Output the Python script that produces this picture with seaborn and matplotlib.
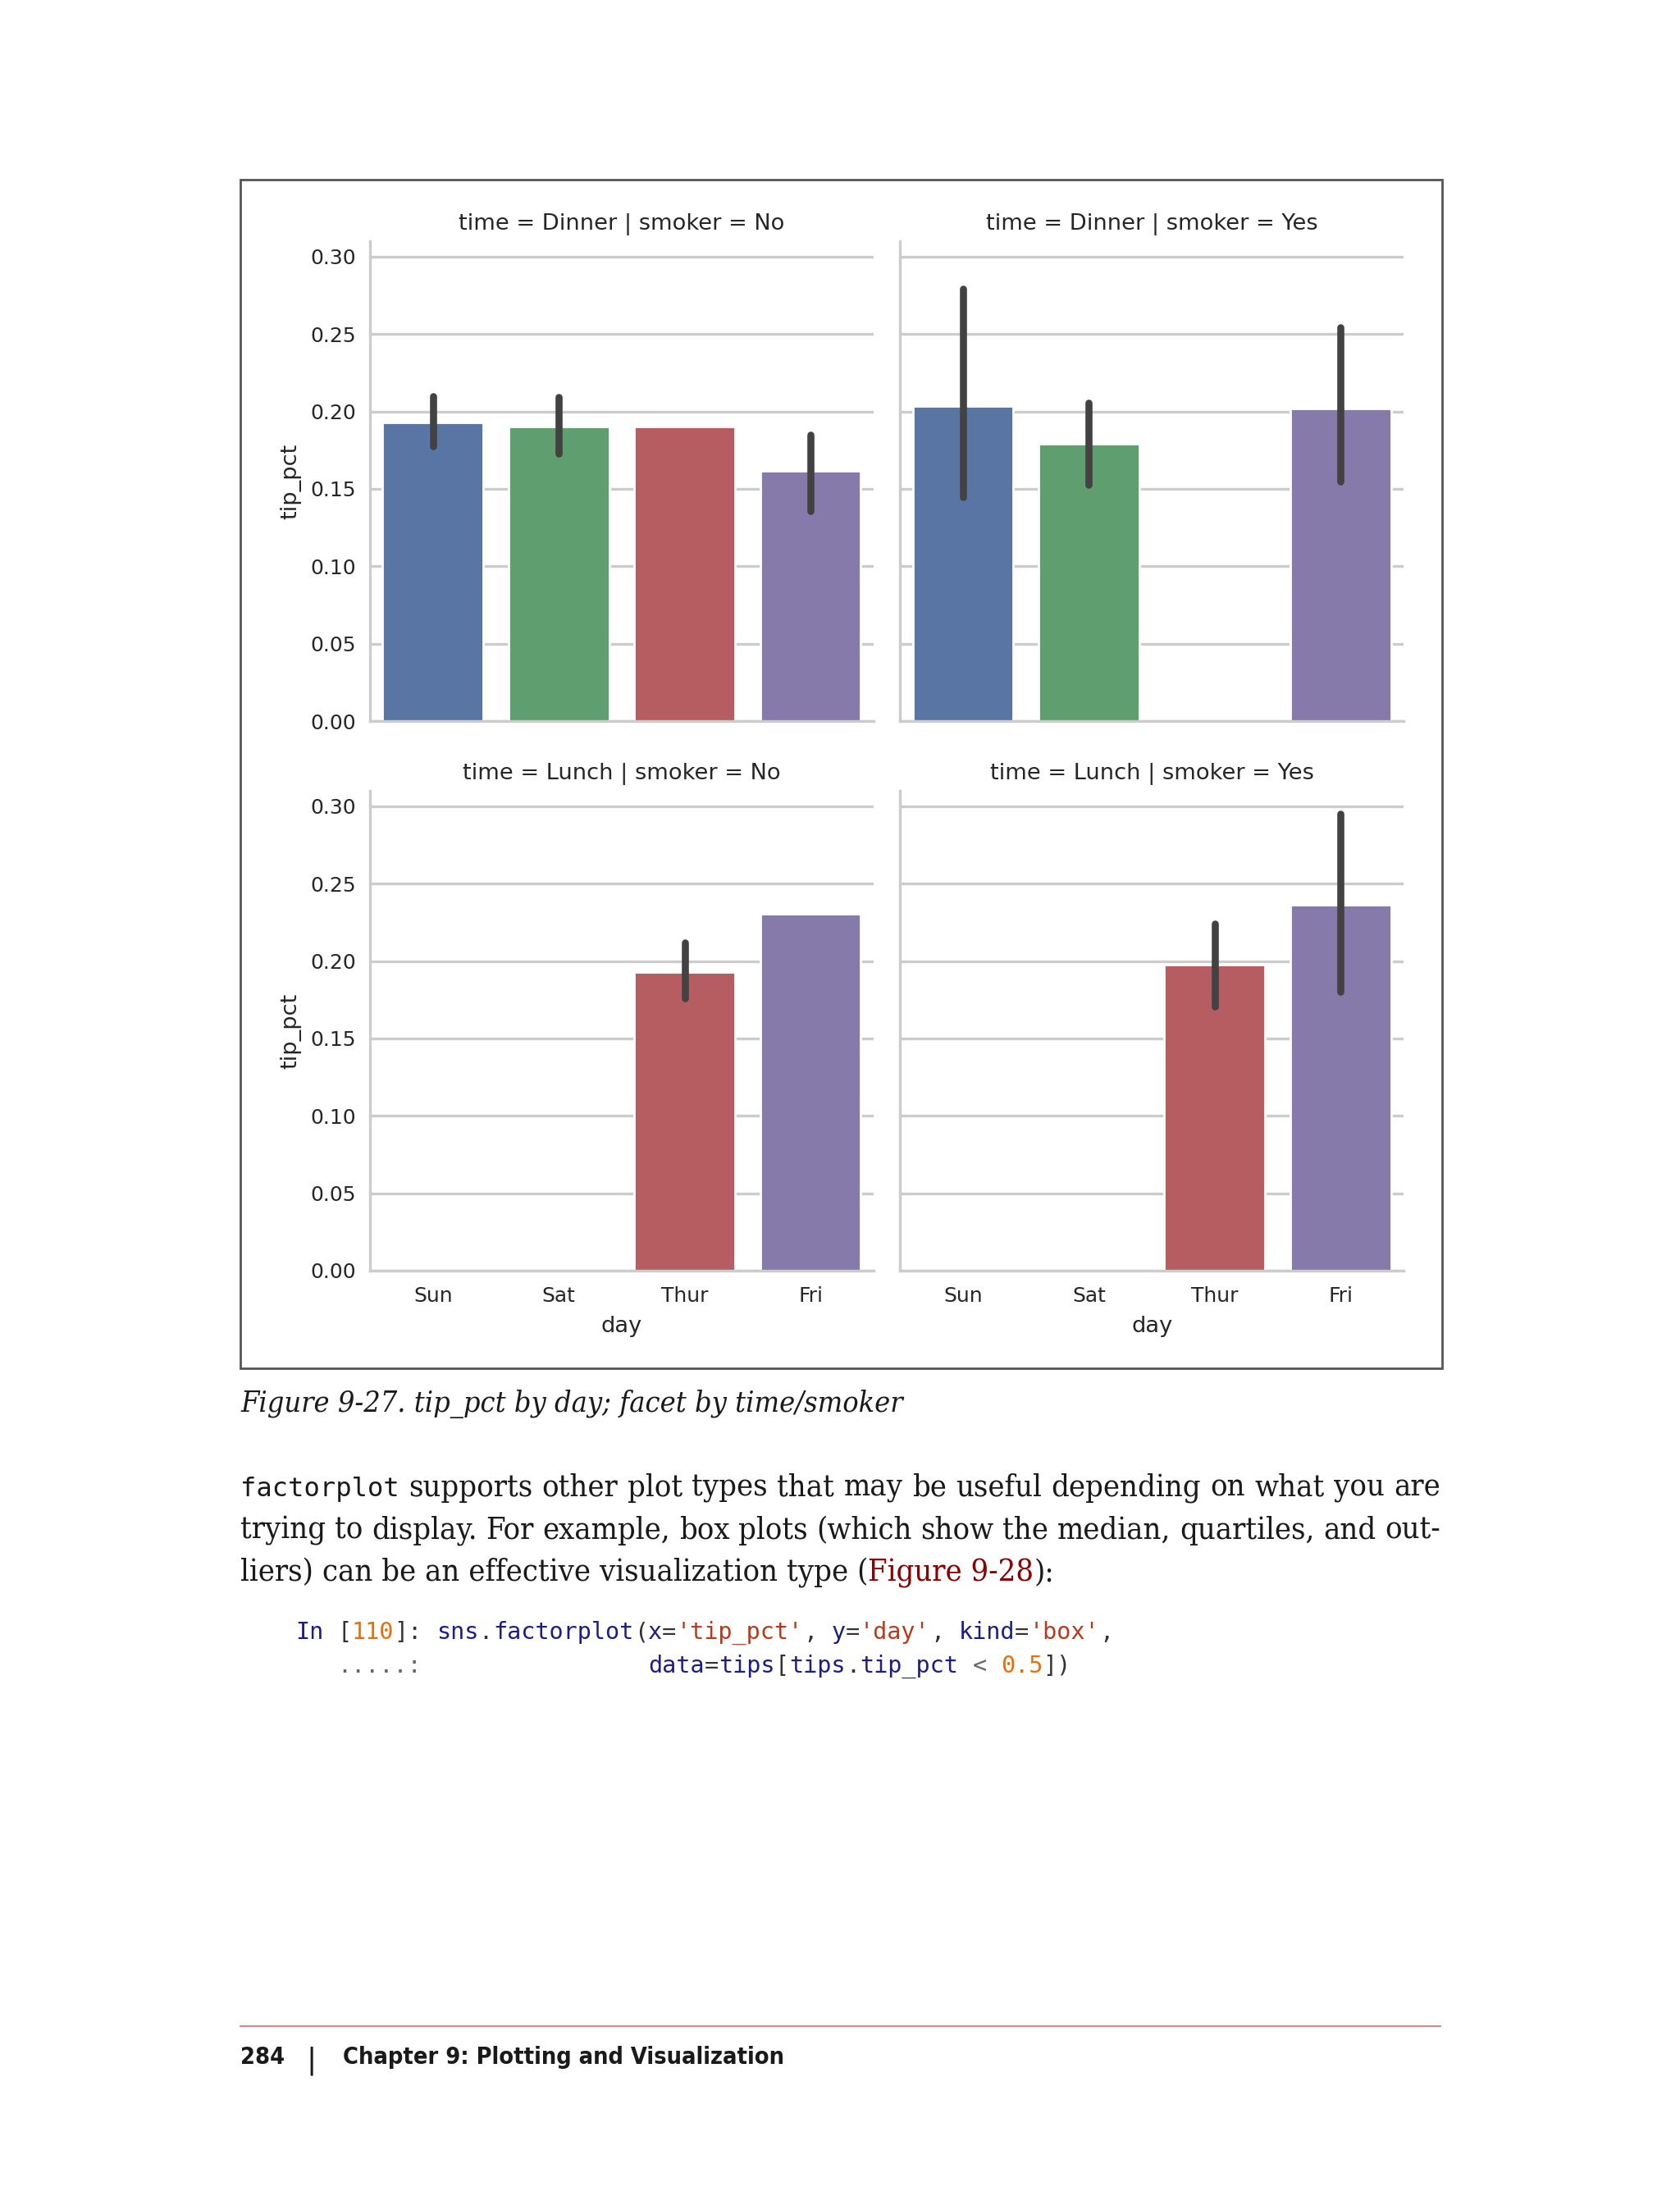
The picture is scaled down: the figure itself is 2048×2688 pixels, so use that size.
import numpy as np
import pandas as pd
import matplotlib
matplotlib.use("Agg")
import matplotlib.pyplot as plt
from matplotlib import font_manager
from matplotlib.font_manager import FontProperties
from matplotlib.patches import Rectangle
from matplotlib.lines import Line2D
import seaborn as sns

# ---- data ----
days = ["Sun", "Sat", "Thur", "Fri"]
times = ["Dinner", "Lunch"]
smokers = ["No", "Yes"]

dinner_no = [0.1931, 0.1903, 0.1903, 0.1618]
dinner_no_lo = [0.1773, 0.1730, np.nan, 0.1358]
dinner_no_hi = [0.2100, 0.2092, np.nan, 0.1848]

dinner_yes = [0.2033, 0.1791, np.nan, 0.2019]
dinner_yes_lo = [0.1446, 0.1524, np.nan, 0.1548]
dinner_yes_hi = [0.2791, 0.2057, np.nan, 0.2545]

lunch_no = [np.nan, np.nan, 0.1929, 0.2306]
lunch_no_lo = [np.nan, np.nan, 0.1761, np.nan]
lunch_no_hi = [np.nan, np.nan, 0.2118, np.nan]

lunch_yes = [np.nan, np.nan, 0.1977, 0.2362]
lunch_yes_lo = [np.nan, np.nan, 0.1705, 0.1803]
lunch_yes_hi = [np.nan, np.nan, 0.2239, 0.2950]

palette = ["#4C72B0", "#55A868", "#C44E52", "#8172B2"]

panels = {
    ("Dinner", "No"): (dinner_no, dinner_no_lo, dinner_no_hi),
    ("Dinner", "Yes"): (dinner_yes, dinner_yes_lo, dinner_yes_hi),
    ("Lunch", "No"): (lunch_no, lunch_no_lo, lunch_no_hi),
    ("Lunch", "Yes"): (lunch_yes, lunch_yes_lo, lunch_yes_hi),
}

rows = []
for (t, s), (means, _, _) in panels.items():
    for d, m in zip(days, means):
        if not np.isnan(m):
            rows.append({"time": t, "smoker": s, "day": d, "tip_pct": m})
df = pd.DataFrame(rows)

# ---- style ----
sns.set_style("whitegrid")
plt.rcParams["font.family"] = ["DejaVu Sans"]
plt.rcParams.update({
    "figure.dpi": 200,
    "savefig.dpi": 200,
    "font.size": 9,
    "axes.titlesize": 9.8,
    "axes.labelsize": 9.8,
    "xtick.labelsize": 9,
    "ytick.labelsize": 9,
    "grid.linewidth": 1.2,
    "axes.linewidth": 1.2,
    "grid.color": "#cccccc",
    "axes.edgecolor": "#cccccc",
    "text.color": "#262626",
    "axes.labelcolor": "#262626",
    "xtick.color": "#262626",
    "ytick.color": "#262626",
})

W, H = 2048, 2688
g = sns.catplot(data=df, x="day", y="tip_pct", row="time", col="smoker",
                hue="day", order=days, hue_order=days, row_order=times,
                col_order=smokers, kind="bar", palette=palette,
                errorbar=None, legend=False, height=3, aspect=1)
fig = g.figure
fig.set_dpi(200)
fig.set_size_inches(W / 200, H / 200)
fig.subplots_adjust(left=451 / W, right=1711 / W, top=1 - 294 / H,
                    bottom=1 - 1549 / H, wspace=0.053, hspace=0.145)

g.set_titles("{row_var} = {row_name} | {col_var} = {col_name}", pad=5)
for (t, s), ax in g.axes_dict.items():
    means, lo, hi = panels[(t, s)]
    for i in range(len(days)):
        if not np.isnan(lo[i]):
            ax.plot([i, i], [lo[i], hi[i]], color="#424242", lw=3.1,
                    solid_capstyle="round", zorder=3)
    ax.set_ylim(0, 0.31)
    ax.set_xlim(-0.5, 3.5)
    ax.set_yticks([0.0, 0.05, 0.10, 0.15, 0.20, 0.25, 0.30])
    ax.yaxis.set_major_formatter(matplotlib.ticker.FormatStrFormatter("%.2f"))
    ax.tick_params(axis="y", pad=6, length=0)
    ax.tick_params(axis="x", pad=7, length=0)
    ax.grid(axis="x", visible=False)

# ---- page elements ----
fig.patches.append(Rectangle((293 / W, 1 - 1668 / H), (1758 - 293) / W,
                             (1668 - 219) / H, transform=fig.transFigure,
                             fill=False, edgecolor="#555555", lw=1.0))

renderer = fig.canvas.get_renderer()


def is_bold(f):
    w = f.weight
    return w == "bold" or (isinstance(w, int) and w >= 700)


def find_font(preds):
    for pred in preds:
        for f in font_manager.fontManager.ttflist:
            if pred(f):
                return f.fname
    return None


def condensed(f):
    return f.stretch in ("condensed", "semi-condensed") or "Condensed" in f.name or "Narrow" in f.name


def xcondensed(f):
    return f.stretch in ("extra-condensed", "ultra-condensed") or "ExtraCondensed" in f.name


def sans(f):
    return "Sans" in f.name and "Mono" not in f.name


foot_file = find_font([
    lambda f: f.name == "Liberation Sans Narrow" and is_bold(f),
    lambda f: xcondensed(f) and sans(f) and is_bold(f) and f.style == "normal",
    lambda f: condensed(f) and sans(f) and is_bold(f) and f.style == "normal",
])
cap_file = find_font([
    lambda f: condensed(f) and "Serif" in f.name and f.style == "italic" and not is_bold(f),
])
body_file = find_font([
    lambda f: condensed(f) and "Serif" in f.name and f.style == "normal" and not is_bold(f),
])


def fprops(fname, family, size, **kw):
    if fname:
        return FontProperties(fname=fname, size=size)
    return FontProperties(family=family, size=size, **kw)


def text_width(s, fp):
    t = fig.text(0, 0, s, fontproperties=fp)
    w = t.get_window_extent(renderer=renderer).width
    t.remove()
    return w


def px(x, y):
    return x / W, 1 - y / H


serif = ["Liberation Serif", "DejaVu Serif"]
mono = ["DejaVu Sans Mono"]
sans_bold = ["DejaVu Sans"]
ink = "#1a1a1a"
left, right = 293, 1756

# caption
cap = "Figure 9-27. tip_pct by day; facet by time/smoker"
cs = 12 * 810 / text_width(cap, fprops(cap_file, serif, 12, style="italic"))
fig.text(*px(293, 1721), cap, fontproperties=fprops(cap_file, serif, cs, style="italic"),
         color=ink, va="baseline")

# paragraph
words1 = "supports other plot types that may be useful depending on what you are".split()
words2 = "trying to display. For example, box plots (which show the median, quartiles, and out-".split()
base = 14
bfp = fprops(body_file, serif, base)
mfp = FontProperties(family=mono, size=base * 0.85)
space = text_width("a a", bfp) - text_width("aa", bfp)
nat1 = text_width("factorplot", mfp) + sum(text_width(w, bfp) for w in words1) + space * len(words1)
nat2 = sum(text_width(w, bfp) for w in words2) + space * (len(words2) - 1)
ps = base * (right - left) / max(nat1, nat2)
bfp = fprops(body_file, serif, ps)
mfp = FontProperties(family=mono, size=ps * 0.85)


def justify(items, ybase):
    widths = [text_width(w, fp) for w, fp in items]
    gap = ((right - left) - sum(widths)) / (len(items) - 1)
    x = left
    for (w, fp), wd in zip(items, widths):
        fig.text(*px(x, ybase), w, fontproperties=fp, color=ink, va="baseline")
        x += wd + gap


justify([("factorplot", mfp)] + [(w, bfp) for w in words1], 1824)
justify([(w, bfp) for w in words2], 1876)
x = left
for s, c in [("liers) can be an effective visualization type (", ink),
             ("Figure 9-28", "#8b0000"), ("):", ink)]:
    fig.text(*px(x, 1928), s, fontproperties=bfp, color=c, va="baseline")
    x += text_width(s, bfp)

# code
cw_target = 17.2
code_size = 10 * cw_target * 20 / text_width("0" * 20, FontProperties(family=mono, size=10))
cfp = FontProperties(family=mono, size=code_size)
navy, dark, orange, strc, gray = "#1c1c8a", "#333333", "#e8700a", "#b83a1a", "#666666"
code1 = [("In", navy), (" ", dark), ("[", dark), ("110", orange), ("]:", dark),
         (" ", dark), ("sns", navy), (".", dark), ("factorplot", navy), ("(", dark),
         ("x", navy), ("=", dark), ("'tip_pct'", strc), (",", dark), (" y", navy),
         ("=", dark), ("'day'", strc), (",", dark), (" kind", navy), ("=", dark),
         ("'box'", strc), (",", dark)]
code2 = [("   .....:", gray), (" " * 16, dark), ("data", navy), ("=", dark),
         ("tips", navy), ("[", dark), ("tips", navy), (".", dark), ("tip_pct", navy),
         (" <", gray), (" ", dark), ("0.5", orange), ("])", dark)]
for segs, yb in ((code1, 1998), (code2, 2039)):
    col = 0
    for s, c in segs:
        if s.strip():
            lead = len(s) - len(s.lstrip())
            fig.text(*px(360 + (col + lead) * cw_target, yb), s.strip(),
                     fontproperties=cfp, color=c, va="baseline")
        col += len(s)

# footer
fig.lines.append(Line2D([293 / W, 1756 / W], [1 - 2470 / H] * 2,
                        transform=fig.transFigure, color="#c89090", lw=0.8))
chap = "Chapter 9: Plotting and Visualization"
if foot_file:
    fs = 12 * 440 / text_width(chap, fprops(foot_file, sans_bold, 12))
else:
    fs = 8.5
if fs < 11:
    fs = (fs + 12.2) / 2
ffp = fprops(foot_file, sans_bold, fs, weight="bold")
fig.text(*px(293, 2516), "284", fontproperties=ffp, color=ink, va="baseline")
fig.text(*px(373, 2522), "|", fontproperties=fprops(None, sans_bold, 13),
         color=ink, va="baseline")
fig.text(*px(418, 2516), chap, fontproperties=ffp, color=ink, va="baseline")

fig.savefig("out.png", dpi=200, facecolor="white")
